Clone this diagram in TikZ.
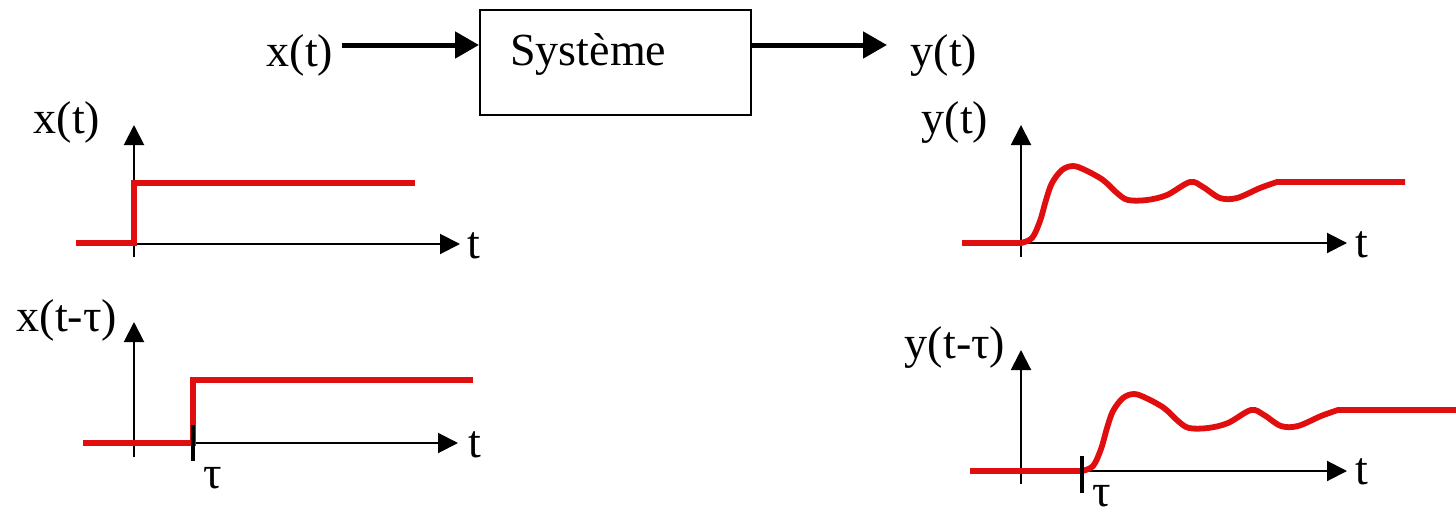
\documentclass[tikz,border=0pt]{standalone}
\usepackage{fontspec}
\setmainfont{Liberation Serif}
\usetikzlibrary{arrows.meta}
\definecolor{sigred}{RGB}{224,14,14}
\begin{document}
\begin{tikzpicture}[x=0.5pt,y=-0.5pt,
  lbl/.style={font=\fontsize{23}{27}\selectfont, inner sep=0pt, anchor=base},
  tlbl/.style={font=\fontsize{23}{27}\selectfont, inner sep=0pt, anchor=base},
  flow/.style={line width=2.5pt, -{Triangle[length=12pt,width=13pt]}},
  axis/.style={line width=1pt, -{Triangle[length=10pt,width=10pt]}},
  sig/.style={sigred, line width=2.9pt},
  delaytick/.style={line width=1.7pt},
  sysbox/.style={draw, line width=1pt, minimum width=135.5pt, minimum height=52.5pt, inner sep=0pt},
  % damped response of the system, starting at the origin (1021,243)
  wiggle/.style={insert path={-- plot[smooth, tension=0.55] coordinates {
      (1021,243) (1032,238) (1040,221) (1046,200) (1052,183) (1062,170)
      (1073,166) (1085,170) (1103,180) (1117,193) (1128,200) (1147,200)
      (1167,195) (1190,182) (1203,187) (1220,198) (1237,198) (1260,188)
      (1277,182)}}}
]
\useasboundingbox[fill=white] (0,0) rectangle (1456,514);

% ---------- block diagram ----------
\node[sysbox] (sys) at (615.5,62.5) {};
\node[lbl, anchor=base west] (systxt) at (510,65) {Système};
\node[lbl] (xin) at (300,66) {x(t)};
\node[lbl] (yout) at (944,66) {y(t)};
\coordinate (inL) at (342,45);
\coordinate (outR) at (887,45);
\draw[flow] (inL) -- (inL -| sys.west);
\draw[flow] (outR -| sys.east) -- (outR);

% ---------- input step x(t) ----------
\coordinate (o1) at (134,244);
\node[lbl] (lx1) at (67,133) {x(t)};
\draw[axis] (134,257) -- (134,125);
\draw[axis] (o1) -- (460,244);
\node[tlbl] (t1) at (474,258) {t};
\draw[sig] (76,243) -- (134,243) -- (134,183) -- (415,183);

% ---------- delayed input x(t-tau) ----------
\coordinate (o2) at (134,443);
\node[lbl] (lx2) at (67,331) {x(t-τ)};
\draw[axis] (134,457) -- (134,322);
\draw[axis] (o2) -- (458,443);
\node[tlbl] (t2) at (475,457) {t};
\draw[sig] (83,443) -- (193,443) -- (193,380) -- (473,380);
\draw[delaytick] (193,425) -- (193,461);
\node[lbl] (tau1) at (213,488) {τ};

% ---------- response y(t) ----------
\coordinate (o3) at (1021,243);
\node[lbl] (ly1) at (955,133) {y(t)};
\draw[axis] (1021,257) -- (1021,125);
\draw[axis] (o3) -- (1347,243);
\node[tlbl] (t3) at (1362,257) {t};
\draw[sig] (962,243) [wiggle] -- (1405,182);

% ---------- delayed response y(t-tau) ----------
\coordinate (o4) at (1021,471);
\node[lbl] (ly2) at (955,358) {y(t-τ)};
\draw[axis] (1021,484) -- (1021,350);
\draw[axis] (o4) -- (1347,471);
\node[tlbl] (t4) at (1362,484) {t};
\begin{scope}[shift={(61,228)}]
  \draw[sig] (909,243) -- (1021,243) [wiggle] -- (1395,182);
\end{scope}
\draw[delaytick] (1082,456) -- (1082,493);
\node[lbl] (tau2) at (1102,506) {τ};
\end{tikzpicture}
\end{document}
